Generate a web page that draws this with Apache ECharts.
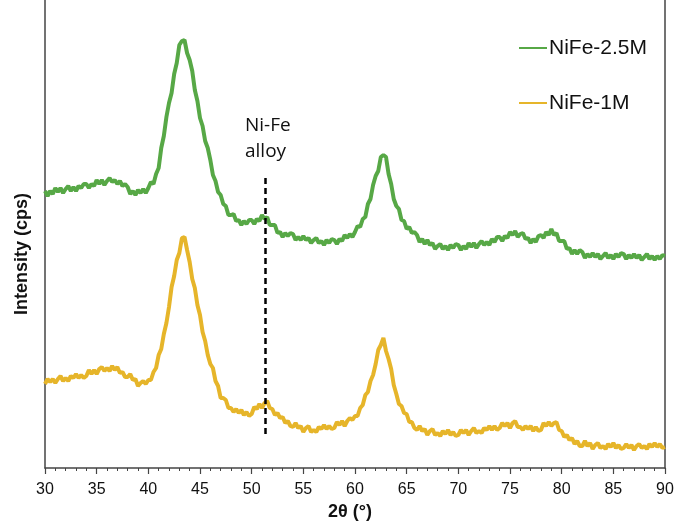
<!DOCTYPE html>
<html>
<head>
<meta charset="utf-8">
<script src="https://cdn.jsdelivr.net/npm/echarts@6/dist/echarts.min.js"></script>
<style>html,body{margin:0;padding:0;background:#fff}#c{width:675px;height:523px}</style>
</head>
<body>
<div id="c"></div>
<script>
const angles = [30,30.25,30.5,30.75,31,31.25,31.5,31.75,32,32.25,32.5,32.75,33,33.25,33.5,33.75,34,34.25,34.5,34.75,35,35.25,35.5,35.75,36,36.25,36.5,36.75,37,37.25,37.5,37.75,38,38.25,38.5,38.75,39,39.25,39.5,39.75,40,40.25,40.5,40.75,41,41.25,41.5,41.75,42,42.25,42.5,42.75,43,43.25,43.5,43.75,44,44.25,44.5,44.75,45,45.25,45.5,45.75,46,46.25,46.5,46.75,47,47.25,47.5,47.75,48,48.25,48.5,48.75,49,49.25,49.5,49.75,50,50.25,50.5,50.75,51,51.25,51.5,51.75,52,52.25,52.5,52.75,53,53.25,53.5,53.75,54,54.25,54.5,54.75,55,55.25,55.5,55.75,56,56.25,56.5,56.75,57,57.25,57.5,57.75,58,58.25,58.5,58.75,59,59.25,59.5,59.75,60,60.25,60.5,60.75,61,61.25,61.5,61.75,62,62.25,62.5,62.75,63,63.25,63.5,63.75,64,64.25,64.5,64.75,65,65.25,65.5,65.75,66,66.25,66.5,66.75,67,67.25,67.5,67.75,68,68.25,68.5,68.75,69,69.25,69.5,69.75,70,70.25,70.5,70.75,71,71.25,71.5,71.75,72,72.25,72.5,72.75,73,73.25,73.5,73.75,74,74.25,74.5,74.75,75,75.25,75.5,75.75,76,76.25,76.5,76.75,77,77.25,77.5,77.75,78,78.25,78.5,78.75,79,79.25,79.5,79.75,80,80.25,80.5,80.75,81,81.25,81.5,81.75,82,82.25,82.5,82.75,83,83.25,83.5,83.75,84,84.25,84.5,84.75,85,85.25,85.5,85.75,86,86.25,86.5,86.75,87,87.25,87.5,87.75,88,88.25,88.5,88.75,89,89.25,89.5,89.75,90];

const nife25 = [277,272,277,274,280,276,280,275,279,282,277,281,277,282,280,284,284,280,284,282,288,284,288,283,287,290,286,288,284,287,282,284,281,274,277,273,278,275,279,275,280,286,284,294,300,320,332,351,365,375,394,405,423,427,428,415,408,397,378,367,350,342,327,320,308,293,287,276,273,264,262,253,253,254,247,248,243,247,244,248,248,244,249,247,253,249,251,243,243,243,235,236,231,235,232,235,234,228,231,228,232,228,230,225,228,230,225,227,223,228,225,229,228,224,229,227,233,230,234,231,236,242,241,249,251,264,269,283,292,297,311,313,311,294,284,269,262,259,248,247,239,241,235,236,233,226,229,224,228,223,225,219,222,224,219,222,218,223,220,224,223,218,222,219,225,221,225,220,224,227,223,226,223,229,226,231,231,227,232,230,236,233,237,231,234,235,229,230,225,229,226,232,233,230,236,233,239,233,235,227,227,227,219,220,214,218,214,218,216,210,214,211,215,211,214,209,212,215,210,213,209,214,211,215,214,209,213,210,214,210,213,208,211,214,209,212,208,212,209,213,212];

const nife1 = [84,89,86,89,85,89,92,87,90,87,92,90,94,90,93,90,92,98,94,98,94,99,101,97,100,97,102,98,101,95,96,91,91,94,88,89,82,85,87,84,88,88,96,100,113,119,134,145,161,181,192,208,215,230,231,218,206,189,180,163,153,136,127,113,104,100,87,82,70,70,68,60,60,56,59,55,58,53,56,52,54,61,59,64,60,65,67,60,59,53,55,50,51,45,47,42,41,45,40,42,36,40,42,36,38,36,41,39,43,39,42,39,40,46,43,47,42,47,50,48,52,52,60,63,73,76,87,93,104,118,123,130,117,109,99,83,74,64,62,55,54,46,46,40,38,42,37,39,33,37,39,33,35,32,37,34,38,33,36,32,33,38,35,38,33,37,40,35,37,35,40,38,42,38,42,38,40,45,42,45,40,45,47,41,41,38,42,39,42,37,41,37,38,45,42,46,42,45,46,38,37,31,33,28,30,24,27,22,22,27,22,25,19,23,25,20,22,19,24,21,25,20,23,19,20,24,20,23,18,22,24,20,22,19,24,21,25,21,24,20,21];

const xTicks = {min: 30, max: 90, interval: 5};
const alloyAngle = 51.3;
const alloyRange = [290, 31];

const seriesNames = ['NiFe-2.5M', 'NiFe-1M'];
const colors = ['#57a846', '#e6b52a'];

function pairs(xs, ys) { return xs.map((x, i) => [x, ys[i]]); }

const chart = echarts.init(document.getElementById('c'));
chart.setOption({
  animation: false,
  backgroundColor: '#fff',
  grid: {left: 45, right: 10, top: 0, bottom: 55, containLabel: false, outerBoundsMode: 'none'},
  legend: {
    orient: 'vertical', left: 514, top: 32, itemGap: 33,
    icon: 'rect', itemWidth: 28, itemHeight: 2,
    textStyle: {fontFamily: 'Liberation Sans', fontSize: 21, color: '#111', lineHeight: 22, padding: [0,0,0,-3]},
    data: seriesNames
  },
  xAxis: {
    type: 'value', min: xTicks.min, max: xTicks.max, interval: xTicks.interval,
    name: '2θ (°)', nameLocation: 'middle', nameGap: 34,
    nameTextStyle: {fontFamily: 'Liberation Sans', fontSize: 18, fontWeight: 'bold', color: '#111', padding: [0, 10, 0, 0]},
    axisLine: {lineStyle: {color: '#444', width: 1.5}},
    axisTick: {show: true, inside: false, length: 6, lineStyle: {color: '#444', width: 1.2}},
    minorTick: {show: true, splitNumber: 5, length: 3, lineStyle: {color: '#444', width: 1}},
    axisLabel: {fontFamily: 'Liberation Sans', fontSize: 16, color: '#111', margin: 14},
    splitLine: {show: false}
  },
  yAxis: [{
    type: 'value', min: 0, max: 468,
    axisLine: {show: true, lineStyle: {color: '#444', width: 1.5}},
    axisTick: {show: false}, axisLabel: {show: false}, splitLine: {show: false}
  }, {
    type: 'value', min: 0, max: 468, position: 'right',
    axisLine: {show: true, lineStyle: {color: '#444', width: 1.5}},
    axisTick: {show: false}, axisLabel: {show: false}, splitLine: {show: false}
  }],
  graphic: [{
    type: 'text', x: 22, y: 254, rotation: Math.PI / 2,
    style: {text: 'Intensity (cps)', font: 'bold 18px "Liberation Sans"', fill: '#111', align: 'center', verticalAlign: 'middle'}
  }, {
    type: 'text', left: 245, top: 113,
    style: {text: 'Ni-Fe\nalloy', font: '19px "Open Sans"', fill: '#111', lineHeight: 26}
  }],
  series: [{
    name: seriesNames[0], type: 'line', data: pairs(angles, nife25),
    symbol: 'none', color: colors[0], lineStyle: {width: 4, color: colors[0]}, z: 3,
    markLine: {
      silent: true, symbol: 'none', label: {show: false},
      lineStyle: {type: [6, 4], color: '#000', width: 2.5},
      data: [[{coord: [alloyAngle, alloyRange[0]]}, {coord: [alloyAngle, alloyRange[1]]}]]
    }
  }, {
    name: seriesNames[1], type: 'line', data: pairs(angles, nife1),
    symbol: 'none', color: colors[1], lineStyle: {width: 4, color: colors[1]}, z: 2
  }]
});
</script>
</body>
</html>
